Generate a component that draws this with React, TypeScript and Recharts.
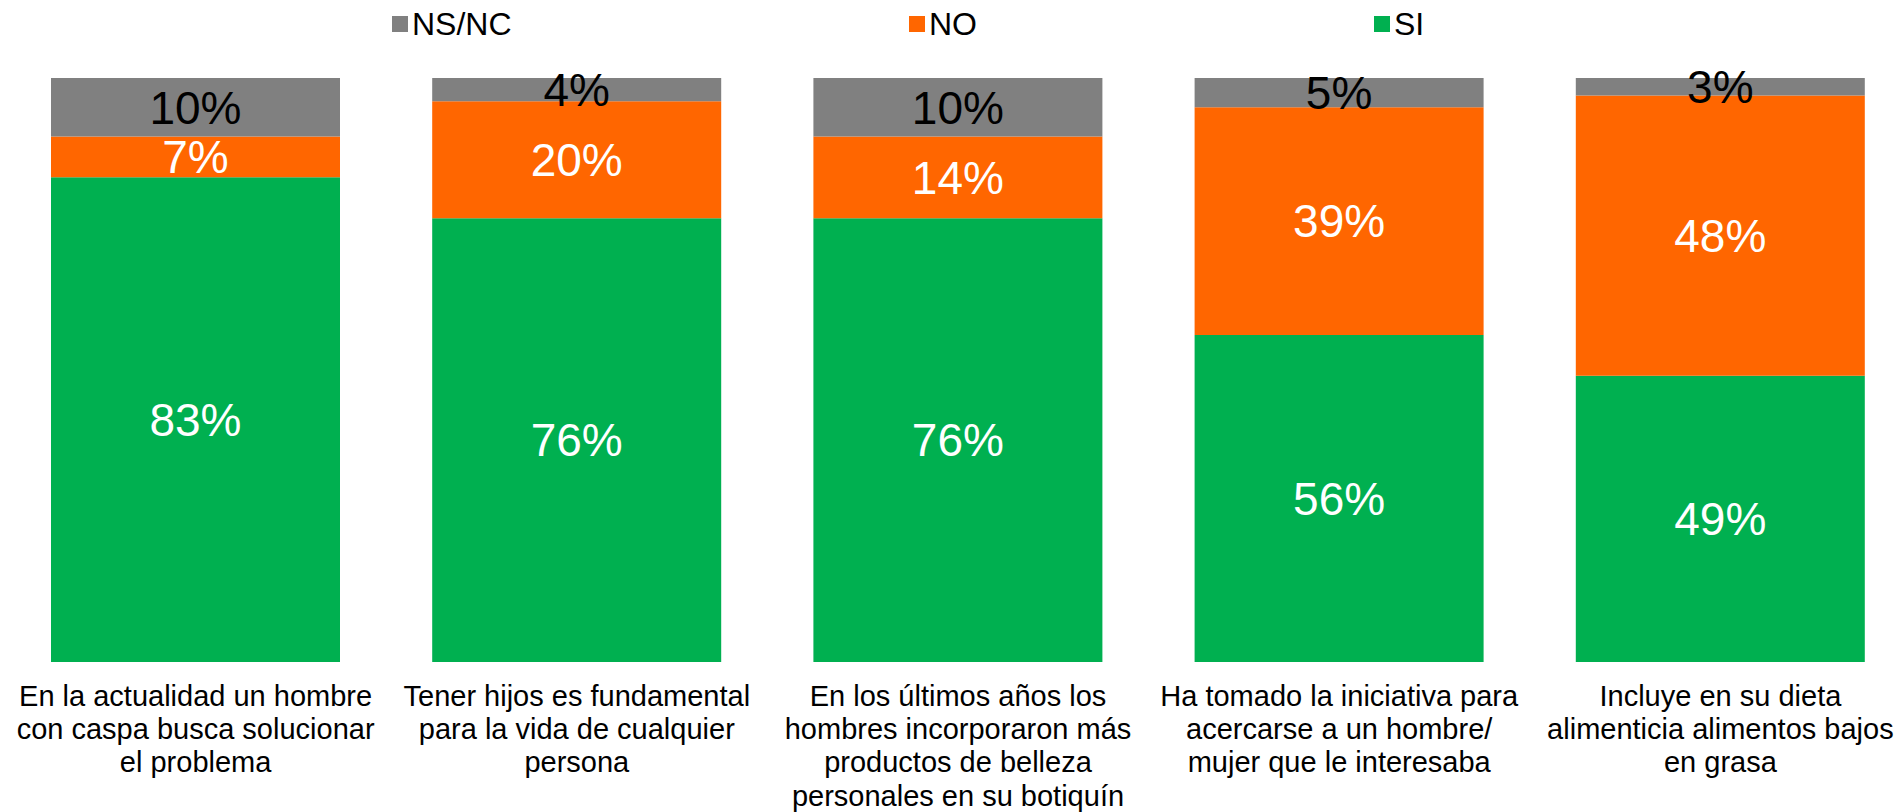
import React from "react";
import { BarChart, Bar, XAxis, YAxis, Legend, LabelList } from "recharts";

const categories: string[] = [
  "En la actualidad un hombre\ncon caspa busca solucionar\nel problema",
  "Tener hijos es fundamental\npara la vida de cualquier\npersona",
  "En los últimos años los\nhombres incorporaron más\nproductos de belleza\npersonales en su botiquín",
  "Ha tomado la iniciativa para\nacercarse a un hombre/\nmujer que le interesaba",
  "Incluye en su dieta\nalimenticia alimentos bajos\nen grasa",
];
const siValues: number[] = [83, 76, 76, 56, 49];
const noValues: number[] = [7, 20, 14, 39, 48];
const nsncValues: number[] = [10, 4, 10, 5, 3];

const seriesNames = { nsnc: "NS/NC", no: "NO", si: "SI" };
const colors = { nsnc: "#808080", no: "#FF6600", si: "#00B050" };

const data = categories.map((c, i) => ({
  name: c,
  si: siValues[i],
  no: noValues[i],
  nsnc: nsncValues[i],
}));

const FONT = "'Liberation Sans', Arial, sans-serif";

const CategoryTick = (props: any) => {
  const { x, y, payload } = props;
  const lines = String(payload.value).split("\n");
  return (
    <g transform={`translate(${x},${y})`}>
      <text textAnchor="middle" fontFamily={FONT} fontSize={29} fill="#000">
        {lines.map((l, i) => (
          <tspan key={i} x={0} y={36 + i * 33.2}>
            {l}
          </tspan>
        ))}
      </text>
    </g>
  );
};

const legendItems = [
  { key: "nsnc", left: 392 },
  { key: "no", left: 909 },
  { key: "si", left: 1374 },
];

const CustomLegend = () => (
  <div style={{ position: "relative", height: 40, width: 1898 }}>
    {legendItems.map((it) => (
      <div
        key={it.key}
        style={{
          position: "absolute",
          left: it.left,
          top: 6,
          display: "flex",
          alignItems: "center",
          fontFamily: FONT,
          fontSize: 32,
          color: "#000",
          lineHeight: "36px",
        }}
      >
        <span
          style={{
            display: "inline-block",
            width: 16,
            height: 16,
            background: (colors as any)[it.key],
            marginRight: 4,
          }}
        />
        <span>{(seriesNames as any)[it.key]}</span>
      </div>
    ))}
  </div>
);

const fmt = (v: any) => `${v}%`;

export default function App() {
  return (
    <div
      style={{
        position: "absolute",
        left: 0,
        top: 0,
        width: 1898,
        height: 812,
        overflow: "hidden",
        background: "#fff",
      }}
    >
      <BarChart
        width={1911}
        height={812}
        data={data}
        margin={{ top: 38, right: 0, bottom: 0, left: 5 }}
        barSize={289}
      >
        <XAxis
          dataKey="name"
          axisLine={false}
          tickLine={false}
          height={150}
          interval={0}
          tick={<CategoryTick />}
        />
        <YAxis hide domain={[0, 100]} />
        <Legend
          verticalAlign="top"
          align="left"
          content={<CustomLegend />}
          wrapperStyle={{ left: 0, top: 0, width: 1898, height: 40 }}
        />
        <Bar dataKey="si" stackId="a" fill={colors.si} name={seriesNames.si} isAnimationActive={false}>
          <LabelList dataKey="si" position="center" formatter={fmt} fill="#fff" fontSize={46} fontFamily={FONT} />
        </Bar>
        <Bar dataKey="no" stackId="a" fill={colors.no} name={seriesNames.no} isAnimationActive={false}>
          <LabelList dataKey="no" position="center" formatter={fmt} fill="#fff" fontSize={46} fontFamily={FONT} />
        </Bar>
        <Bar dataKey="nsnc" stackId="a" fill={colors.nsnc} name={seriesNames.nsnc} isAnimationActive={false}>
          <LabelList dataKey="nsnc" position="center" formatter={fmt} fill="#000" fontSize={46} fontFamily={FONT} />
        </Bar>
      </BarChart>
    </div>
  );
}
